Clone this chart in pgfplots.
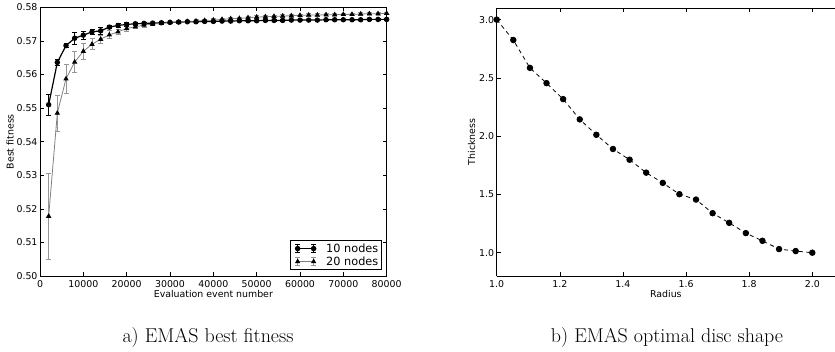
\documentclass[border=0pt]{standalone}
\usepackage{fontspec}
\usepackage{pgfplots}
\usepackage{pgfplotstable}
\pgfplotsset{compat=1.18}
\newfontfamily\dejavu{DejaVu Sans}
\definecolor{lgray}{RGB}{128,128,128}
\definecolor{egray}{RGB}{150,150,150}

\pgfplotsset{
  legA/.style={legend image code/.code={
    \path (-6pt,0pt) (26pt,0pt);
    \draw[black, line width=0.9pt] (0pt,-4pt)--(0pt,4pt) (-2.5pt,4pt)--(2.5pt,4pt) (-2.5pt,-4pt)--(2.5pt,-4pt)
      (16pt,-4pt)--(16pt,4pt) (13.5pt,4pt)--(18.5pt,4pt) (13.5pt,-4pt)--(18.5pt,-4pt);
    \draw[##1] plot coordinates {(0pt,0pt) (16pt,0pt)};
  }},
  legB/.style={legend image code/.code={
    \path (-6pt,0pt) (26pt,0pt);
    \draw[egray, line width=0.8pt] (0pt,-4pt)--(0pt,4pt) (-2.5pt,4pt)--(2.5pt,4pt) (-2.5pt,-4pt)--(2.5pt,-4pt)
      (16pt,-4pt)--(16pt,4pt) (13.5pt,4pt)--(18.5pt,4pt) (13.5pt,-4pt)--(18.5pt,-4pt);
    \draw[##1] plot coordinates {(0pt,0pt) (16pt,0pt)};
  }},
}

\pgfplotstableread{
x y e
2000 0.5510 0.0031
4000 0.5636 0.0009
6000 0.5686 0.0007
8000 0.5708 0.0018
10000 0.5717 0.0012
12000 0.5727 0.0008
14000 0.5730 0.0010
16000 0.5741 0.0004
18000 0.5746 0.0005
20000 0.5749 0.0005
22000 0.5751 0.0004
24000 0.5752 0.0004
26000 0.5753 0.0003
28000 0.5754 0.0003
30000 0.5755 0.0003
32000 0.5756 0.0003
34000 0.5757 0.0002
36000 0.5757 0.0002
38000 0.5758 0.0002
40000 0.5758 0.0002
42000 0.5759 0.0002
44000 0.5759 0.0002
46000 0.5760 0.0002
48000 0.5760 0.0002
50000 0.5760 0.0002
52000 0.5761 0.0002
54000 0.5761 0.0002
56000 0.5761 0.0002
58000 0.5762 0.0002
60000 0.5762 0.0002
62000 0.5762 0.0002
64000 0.5762 0.0002
66000 0.5763 0.0002
68000 0.5763 0.0002
70000 0.5763 0.0002
72000 0.5763 0.0002
74000 0.5763 0.0002
76000 0.5764 0.0002
78000 0.5764 0.0002
80000 0.5764 0.0002
}\tenNodes

\pgfplotstableread{
x y e
2000 0.5178 0.0128
4000 0.5485 0.0054
6000 0.5587 0.0042
8000 0.5637 0.0031
10000 0.5669 0.0023
12000 0.5690 0.0016
14000 0.5705 0.0012
16000 0.5718 0.0012
18000 0.5727 0.0008
20000 0.5737 0.0008
22000 0.5742 0.0006
24000 0.5747 0.0006
26000 0.5750 0.0005
28000 0.5752 0.0004
30000 0.5755 0.0004
32000 0.5756 0.0004
34000 0.5758 0.0004
36000 0.5759 0.0004
38000 0.5761 0.0004
40000 0.5762 0.0004
42000 0.5764 0.0004
44000 0.5766 0.0004
46000 0.5767 0.0004
48000 0.5769 0.0004
50000 0.5771 0.0004
52000 0.5772 0.0004
54000 0.5773 0.0004
56000 0.5774 0.0004
58000 0.5775 0.0004
60000 0.5776 0.0004
62000 0.5777 0.0004
64000 0.5777 0.0004
66000 0.5778 0.0004
68000 0.5778 0.0004
70000 0.5779 0.0004
72000 0.5779 0.0004
74000 0.5780 0.0004
76000 0.5781 0.0004
78000 0.5781 0.0004
80000 0.5782 0.0004
}\twentyNodes

\pgfplotstableread{
x y
1.0000 3.000
1.0526 2.825
1.1053 2.586
1.1579 2.455
1.2105 2.318
1.2632 2.144
1.3158 2.012
1.3684 1.890
1.4211 1.798
1.4737 1.687
1.5263 1.599
1.5789 1.502
1.6316 1.456
1.6842 1.339
1.7368 1.256
1.7895 1.168
1.8421 1.102
1.8947 1.031
1.9474 1.014
2.0000 1.000
}\disc

\begin{document}
\begin{tikzpicture}
\useasboundingbox (0pt,0pt) rectangle (835pt,351pt);
\pgfplotsset{
  common/.style={
    scale only axis,
    anchor=south west,
    tick align=inside,
    major tick length=4pt,
    axis line style={line width=0.8pt},
    every tick/.style={black, line width=0.6pt},
    tick label style={font=\dejavu\fontsize{9.4}{11}\selectfont},
    /pgf/number format/assume math mode=true,
    xticklabel style={yshift=-1pt},
    yticklabel style={xshift=1pt},
  }
}
\begin{axis}[common,
  at={(40pt,75pt)}, width=346.7pt, height=268.7pt,
  xmin=0, xmax=80000, ymin=0.50, ymax=0.58,
  xtick={0,10000,...,80000},
  ytick={0.50,0.51,...,0.58},
  scaled ticks=false,
  xticklabel style={/pgf/number format/1000 sep={}},
  yticklabel style={/pgf/number format/.cd, fixed, fixed zerofill, precision=2},
  xlabel={Evaluation event number},
  ylabel={Best fitness},
  every axis x label/.style={at={([yshift=-18pt]axis description cs:0.5,0)}, anchor=center, font=\dejavu\fontsize{9.4}{11}\selectfont},
  every axis y label/.style={at={([xshift=-30pt]axis description cs:0,0.5)}, anchor=center, rotate=90, font=\dejavu\fontsize{9.4}{11}\selectfont},
  legend style={at={(axis description cs:0.9856,0.022)}, anchor=south east,
    font=\dejavu\fontsize{11.3}{13}\selectfont, draw=black, line width=0.8pt,
    inner xsep=1pt, inner ysep=1pt, row sep=-1pt, cells={anchor=west}},
]
\addplot[black, line width=1.2pt, mark=*, mark size=2.1pt, legA,
  error bars/.cd, y dir=both, y explicit,
  error bar style={black, line width=0.9pt},
  error mark options={black, rotate=90, mark size=2.5pt, line width=0.9pt}]
  table[x=x, y=y, y error=e] {\tenNodes};
\addlegendentry{10 nodes}
\addplot[lgray, line width=0.8pt, mark=triangle*, mark size=2.3pt, mark options={black, fill=black}, legB,
  error bars/.cd, y dir=both, y explicit,
  error bar style={egray, line width=0.8pt},
  error mark options={egray, rotate=90, mark size=2.5pt, line width=0.8pt}]
  table[x=x, y=y, y error=e] {\twentyNodes};
\addlegendentry{20 nodes}
\end{axis}

\begin{axis}[common,
  at={(496.7pt,75pt)}, width=338.3pt, height=268pt,
  axis x line*=box, axis y line*=left,
  xmin=1.0, xmax=2.072, ymin=0.8, ymax=3.1,
  xtick={1.0,1.2,...,2.0},
  ytick={1.0,1.5,...,3.0},
  xticklabel style={/pgf/number format/.cd, fixed, fixed zerofill, precision=1},
  yticklabel style={/pgf/number format/.cd, fixed, fixed zerofill, precision=1},
  xlabel={Radius},
  ylabel={Thickness},
  every axis x label/.style={at={([yshift=-18pt]axis description cs:0.5,0)}, anchor=center, font=\dejavu\fontsize{9.4}{11}\selectfont},
  every axis y label/.style={at={([xshift=-25pt]axis description cs:0,0.5)}, anchor=center, rotate=90, font=\dejavu\fontsize{9.4}{11}\selectfont},
]
\addplot[black, line width=0.8pt, dash pattern=on 4pt off 3.5pt, mark=*, mark size=2.8pt,
  mark options={solid}] table[x=x, y=y] {\disc};
\end{axis}

\node[anchor=base, font=\fontsize{20}{24}\selectfont] at (208pt,9pt) {a) EMAS best fitness};
\node[anchor=base, font=\fontsize{20}{24}\selectfont] at (667pt,9pt) {b) EMAS optimal disc shape};
\end{tikzpicture}
\end{document}
